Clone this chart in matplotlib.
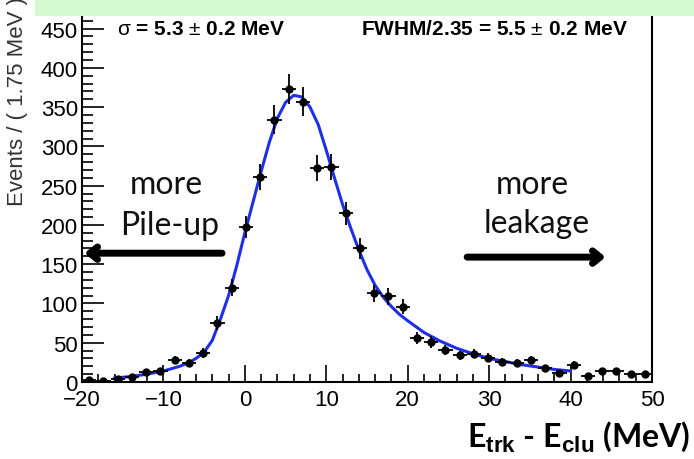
import numpy as np
import matplotlib
matplotlib.use('Agg')
import matplotlib.pyplot as plt
from matplotlib.ticker import MultipleLocator
from matplotlib.patches import Rectangle

# histogram: 40 bins of 1.75 MeV between -20 and 50
BIN_WIDTH = 1.75
bin_centers = -20 + BIN_WIDTH / 2 + BIN_WIDTH * np.arange(40)
counts = [3, 1, 4, 6, 13, 14, 28, 24, 37, 75,
          120, 197, 261, 334, 373, 357, 273, 274, 215, 170,
          113, 109, 96, 56, 51, 41, 34, 36, 31, 26,
          24, 28, 18, 11, 22, 8, 14, 14, 10, 10]

# fitted curve
fit_x = [-16, -14, -12, -10, -8, -7, -6, -5, -4, -3, -2, -1, 0, 1, 2, 3, 4, 5, 6,
         7, 8, 9, 10, 11, 12, 13, 14, 15, 16, 17, 18, 19, 20, 22, 24, 26, 28, 30,
         32, 34, 36, 38, 40]
fit_y = [5, 7, 10, 14, 20, 24, 30, 38, 53, 80, 110, 148, 190, 229, 268, 305, 336, 356, 365,
         363, 350, 328, 295, 260, 226, 196, 168, 143, 123, 108, 96, 86, 78, 63, 52, 43, 36, 30,
         26, 22, 19, 16, 14]

sigma_text = r'$\sigma$ = 5.3 $\pm$ 0.2 MeV'
fwhm_text = r'FWHM/2.35 = 5.5 $\pm$ 0.2 MeV'

plt.rcParams['font.family'] = ['Liberation Sans', 'DejaVu Sans']
plt.rcParams['mathtext.fontset'] = 'custom'
plt.rcParams['mathtext.rm'] = 'Liberation Sans'
plt.rcParams['mathtext.it'] = 'Liberation Sans'
plt.rcParams['mathtext.bf'] = 'Liberation Sans:bold'

fig = plt.figure(figsize=(6.94, 4.60), dpi=100)
ax = fig.add_axes([82 / 694, 77 / 460, 570 / 694, 377 / 460])

ax.plot(fit_x, fit_y, color='#1f2fe6', lw=2.2, zorder=2)
errs = np.sqrt(counts)
ax.errorbar(bin_centers, counts, yerr=errs, xerr=BIN_WIDTH / 2, fmt='o', ms=5,
            color='black', ecolor='black', elinewidth=1.3, capsize=0, zorder=3)

ax.set_xlim(-20, 50)
ax.set_ylim(0, 480)
ax.xaxis.set_major_locator(MultipleLocator(10))
ax.xaxis.set_minor_locator(MultipleLocator(2))
ax.yaxis.set_major_locator(MultipleLocator(50))
ax.yaxis.set_minor_locator(MultipleLocator(10))
ax.tick_params(axis='both', which='both', direction='in', width=1.2, labelsize=16,
               colors='black', top=False, right=False)
ax.tick_params(axis='x', which='major', length=12, pad=5)
ax.tick_params(axis='x', which='minor', length=6)
ax.tick_params(axis='y', which='major', length=16, pad=3)
ax.tick_params(axis='y', which='minor', length=8)
for sp in ax.spines.values():
    sp.set_linewidth(1.5)

fig.text(117 / 694, 1 - 35 / 460, sigma_text, fontsize=15, fontweight='bold', va='baseline')
fig.text(361 / 694, 1 - 35 / 460, fwhm_text, fontsize=15, fontweight='bold', va='baseline')

fig.text(18 / 694, 1 - 206 / 460, 'Events / ( 1.75 MeV )', rotation=90, fontsize=16,
         ha='center', va='bottom', color='#333333')

# annotation arrows and labels
arrow = dict(arrowstyle='->, head_length=0.55, head_width=0.45', lw=5, color='black',
             shrinkA=0, shrinkB=0)
ax.annotate('', xy=(-19.7, 164), xytext=(-2.8, 164), arrowprops=arrow)
ax.annotate('', xy=(44.3, 159), xytext=(27.3, 159), arrowprops=arrow)
txt = dict(fontsize=23, ha='center', va='center', color='#111111', family=['Lato', 'DejaVu Sans'])
ax.text(-9.7, 252, 'more', **txt)
ax.text(-9.3, 200, 'Pile-up', **txt)
ax.text(35.3, 252, 'more', **txt)
ax.text(35.9, 203, 'leakage', **txt)

fig.text(1 - 4 / 694, 1 - 447 / 460, r'E$_{\mathbf{trk}}$ - E$_{\mathbf{clu}}$ (MeV)',
         fontsize=23, fontweight='bold', ha='right', va='baseline',
         family=['Lato', 'DejaVu Sans'])

# green banner across the top (clipped title area)
fig.patches.append(Rectangle((35 / 694, 1 - 17 / 460), 1, 17 / 460, transform=fig.transFigure,
                             facecolor='#d4fad2', edgecolor='none', zorder=10))

fig.savefig('out.png', dpi=100)
